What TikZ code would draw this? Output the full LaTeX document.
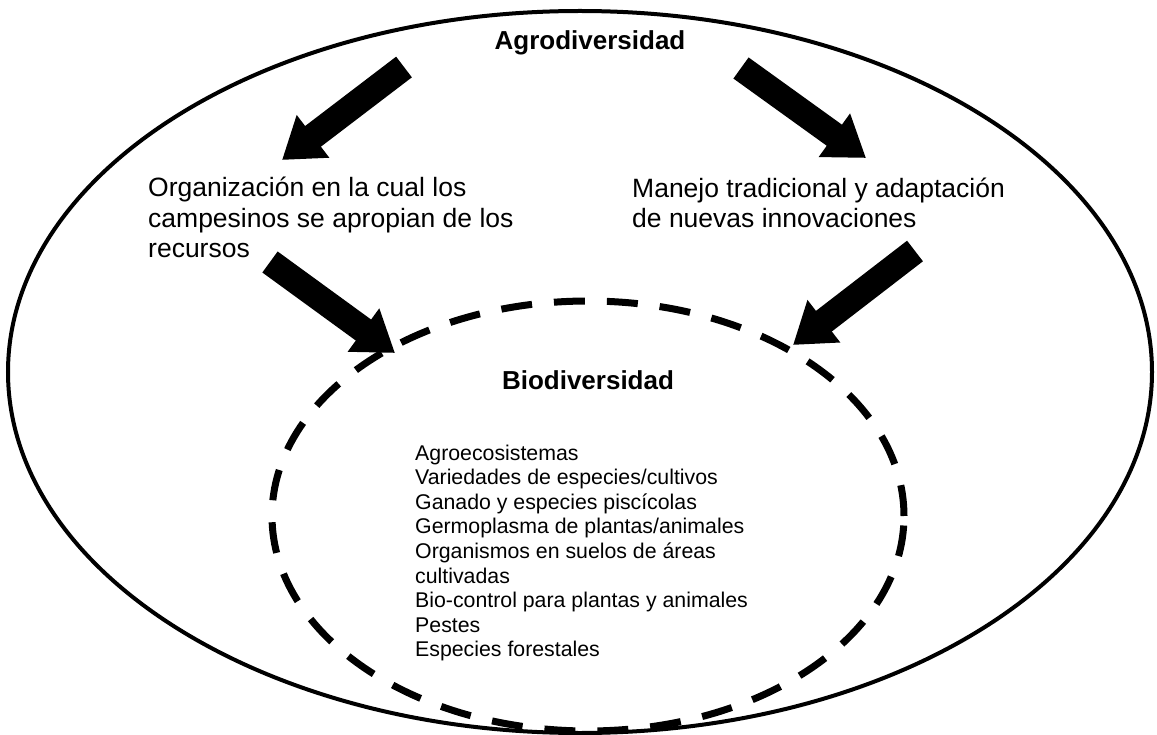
\documentclass[tikz,border=0pt]{standalone}
\usepackage{fontspec}
\setmainfont{Liberation Sans}
\usetikzlibrary{arrows.meta}
\tikzset{
  blockarrow/.style={line width=26pt, -{Triangle[width=51pt,length=39pt]}},
  bodytext/.style={anchor=base west, inner sep=0pt, font=\fontsize{26.5}{30.5}\selectfont},
  listtext/.style={anchor=base west, inner sep=0pt, font=\fontsize{21.3}{24.6}\selectfont},
  heading/.style={anchor=base, inner sep=0pt, font=\fontsize{26}{30}\selectfont\bfseries},
  outerring/.style={line width=4pt},
  innerring/.style={line width=7pt, dash pattern=on 31pt off 22pt}
}
\begin{document}
\begin{tikzpicture}[x=1pt,y=-1pt]
\useasboundingbox (0,0) rectangle (1157,735);
\fill[white] (0,0) rectangle (1157,735);
% rings
\draw[outerring] (580,372) ellipse [x radius=572pt, y radius=361pt];
\draw[innerring] (588,516) ellipse [x radius=316pt, y radius=215pt];
% texts
\node[heading] (agro) at (590,50) {Agrodiversidad};
\node[bodytext] (org) at (148,197) {\vtop{\baselineskip=30.5pt\hbox{Organización en la cual los}\hbox{campesinos se apropian de los}\hbox{recursos}}};
\node[bodytext] (man) at (632,198) {\vtop{\baselineskip=29.5pt\hbox{Manejo tradicional y adaptación}\hbox{de nuevas innovaciones}}};
\node[heading] (bio) at (588,389) {Biodiversidad};
\node[listtext] (list) at (415,460) {\vtop{\baselineskip=24.6pt
\hbox{Agroecosistemas}
\hbox{Variedades de especies/cultivos}
\hbox{Ganado y especies piscícolas}
\hbox{Germoplasma de plantas/animales}
\hbox{Organismos en suelos de áreas}
\hbox{cultivadas}
\hbox{Bio-control para plantas y animales}
\hbox{Pestes}
\hbox{Especies forestales}}};
% arrow end points
\coordinate (a1s) at (404,67);  \coordinate (a1e) at (282,160);
\coordinate (a2s) at (741,68);  \coordinate (a2e) at (866,158);
\coordinate (a3s) at (270,262); \coordinate (a3e) at (395,353);
\coordinate (a4s) at (915,251); \coordinate (a4e) at (793,345);
\draw[blockarrow] (a1s) -- (a1e);
\draw[blockarrow] (a2s) -- (a2e);
\draw[blockarrow] (a3s) -- (a3e);
\draw[blockarrow] (a4s) -- (a4e);
\end{tikzpicture}
\end{document}
